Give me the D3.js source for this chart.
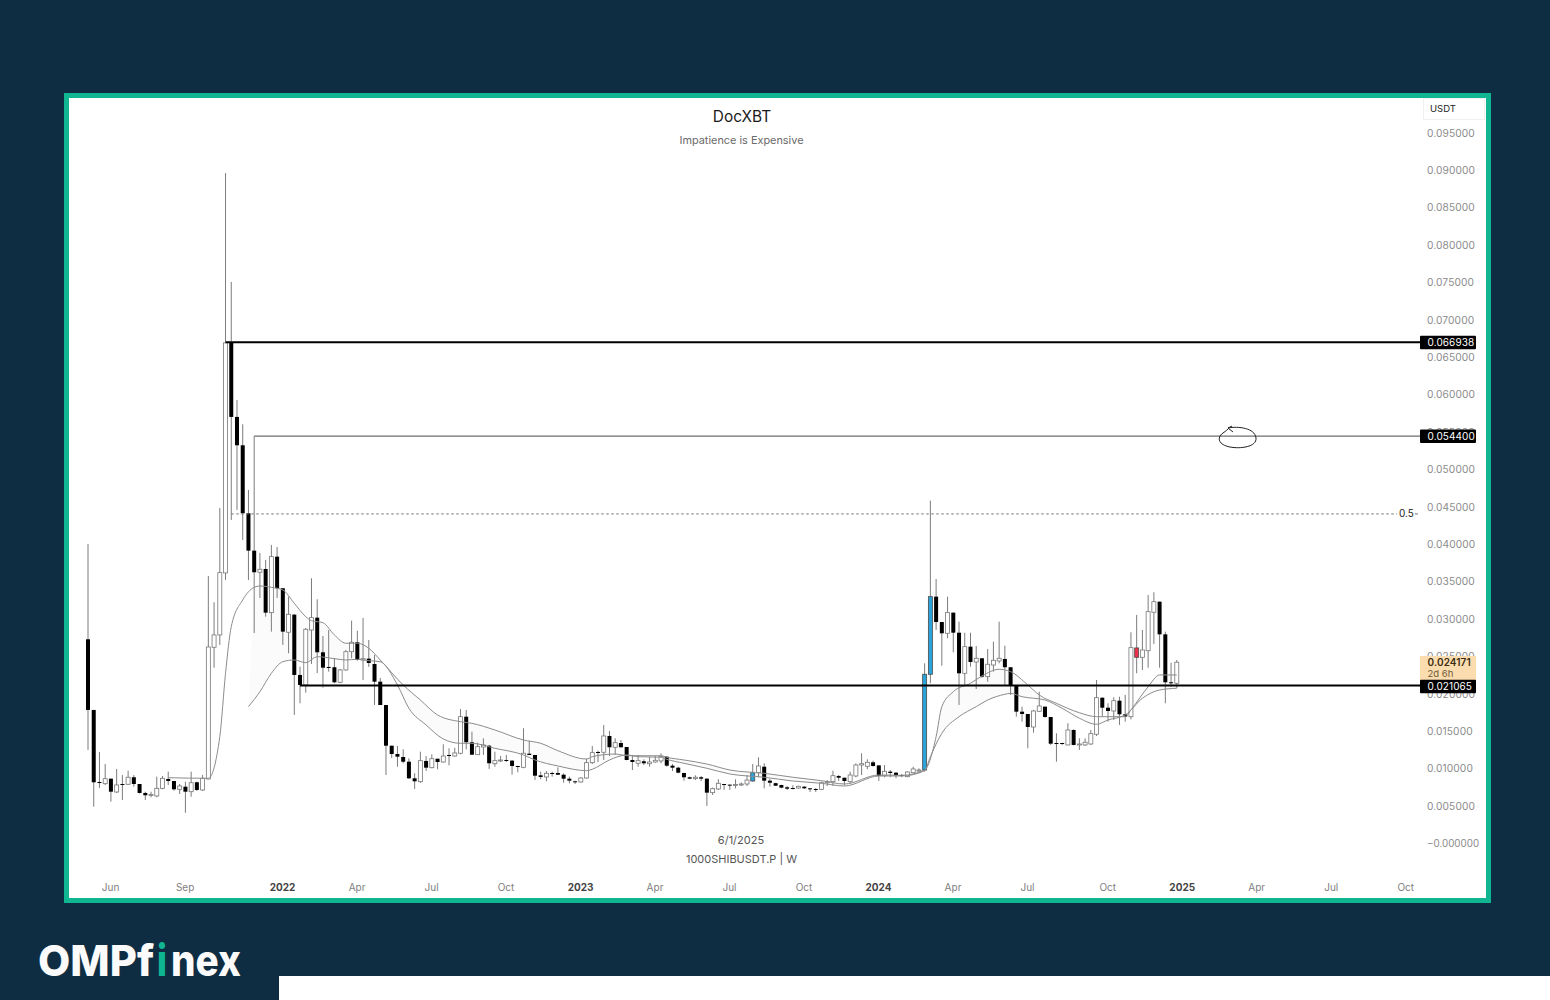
<!DOCTYPE html>
<html>
<head>
<meta charset="utf-8">
<script src="https://cdn.jsdelivr.net/npm/d3@7"></script>
<style>
  html, body { margin: 0; background: #0e2d42; }
  svg { display: block; }
  text { font-family: Inter, "Noto Sans", sans-serif; }
</style>
</head>
<body>
<div id="chart"></div>
<script>
// weekly candles, one entry per week, week 0 is the first candle on the left
const opens = [
  0.02724,0.01779,0.00816,0.00793,0.00860,0.00682,0.00789,0.00785,0.00879,0.00789,
  0.00669,0.00635,0.00629,0.00731,0.00856,0.00829,0.00718,0.00753,0.00686,0.00812,
  0.00709,0.00856,0.02617,0.02782,0.03611,0.06696,0.05697,0.05318,0.04409,0.03909,
  0.03620,0.03664,0.03080,0.03829,0.03406,0.02818,0.03053,0.02247,0.02113,0.02848,
  0.03013,0.02550,0.02354,0.02350,0.02149,0.02314,0.02558,0.02684,0.02447,0.02465,
  0.02394,0.02157,0.01845,0.01301,0.01190,0.01150,0.01087,0.00865,0.00820,0.01097,
  0.01007,0.01127,0.01083,0.01177,0.01163,0.01200,0.01689,0.01347,0.01181,0.01284,
  0.01301,0.01060,0.01101,0.01110,0.01101,0.01030,0.01012,0.01194,0.01177,0.00905,
  0.00883,0.00936,0.00936,0.00913,0.00860,0.00825,0.00816,0.00869,0.01074,0.01217,
  0.01213,0.01431,0.01280,0.01337,0.01284,0.01110,0.01066,0.01093,0.01060,0.01083,
  0.01097,0.01154,0.01034,0.01007,0.00936,0.00879,0.00860,0.00879,0.00860,0.00673,
  0.00722,0.00789,0.00780,0.00776,0.00782,0.00789,0.00829,0.00940,0.01020,0.00833,
  0.00800,0.00775,0.00745,0.00735,0.00735,0.00753,0.00731,0.00722,0.00718,0.00806,
  0.00820,0.00896,0.00873,0.00820,0.00896,0.01043,0.01026,0.01079,0.01038,0.00900,
  0.00954,0.00940,0.00909,0.00887,0.00940,0.00963,0.00976,0.02256,0.03294,0.02955,
  0.02804,0.03080,0.02812,0.02269,0.02625,0.02420,0.02470,0.02224,0.02380,0.02434,
  0.02461,0.02350,0.02109,0.01756,0.01725,0.01551,0.01761,0.01823,0.01685,0.01337,
  0.01337,0.01311,0.01511,0.01317,0.01311,0.01324,0.01454,0.01943,0.01809,0.01765,
  0.01903,0.01721,0.01689,0.02483,0.02483,0.02571,0.03085,0.03227,0.02790,0.02149,0.02136
];
const highs = [
  0.03998,0.01779,0.01217,0.01056,0.00860,0.00990,0.00909,0.00967,0.00909,0.00789,
  0.00686,0.00686,0.00887,0.00896,0.00954,0.00829,0.00789,0.00820,0.00954,0.00820,
  0.00909,0.03571,0.03219,0.04480,0.08956,0.07502,0.05924,0.05599,0.04721,0.05440,
  0.03878,0.03785,0.03985,0.03958,0.03410,0.03294,0.03062,0.02358,0.02875,0.03540,
  0.03259,0.02768,0.02848,0.02470,0.02327,0.02581,0.02973,0.02839,0.03009,0.02715,
  0.02514,0.02207,0.01845,0.01301,0.01297,0.01253,0.01133,0.00932,0.01221,0.01163,
  0.01186,0.01127,0.01320,0.01266,0.01274,0.01792,0.01779,0.01488,0.01341,0.01400,
  0.01311,0.01221,0.01163,0.01177,0.01110,0.01030,0.01534,0.01368,0.01177,0.00954,
  0.00963,0.00954,0.01012,0.00932,0.00887,0.00833,0.00879,0.01127,0.01297,0.01234,
  0.01578,0.01498,0.01400,0.01377,0.01284,0.01177,0.01177,0.01119,0.01154,0.01163,
  0.01200,0.01163,0.01056,0.01020,0.00940,0.00887,0.00905,0.00896,0.00865,0.00740,
  0.00852,0.00789,0.00780,0.00852,0.00809,0.00909,0.01056,0.01146,0.01066,0.00856,
  0.00806,0.00780,0.00762,0.00771,0.00766,0.00762,0.00735,0.00735,0.00820,0.00842,
  0.00967,0.00909,0.00873,0.00954,0.01066,0.01200,0.01119,0.01101,0.01038,0.01043,
  0.00976,0.00949,0.00923,0.00959,0.01020,0.00999,0.02403,0.04578,0.03530,0.02955,
  0.03294,0.03080,0.02959,0.02812,0.02812,0.02634,0.02470,0.02594,0.02692,0.02959,
  0.02639,0.02354,0.02109,0.01823,0.01725,0.01779,0.02023,0.01823,0.01685,0.01467,
  0.01341,0.01601,0.01520,0.01400,0.01400,0.01511,0.02180,0.01943,0.01868,0.01948,
  0.01956,0.01979,0.02818,0.03049,0.02848,0.03316,0.03352,0.03227,0.02826,0.02411,0.02447
];
const lows = [
  0.01244,0.00485,0.00736,0.00776,0.00552,0.00669,0.00575,0.00776,0.00753,0.00662,
  0.00575,0.00611,0.00611,0.00718,0.00776,0.00699,0.00655,0.00405,0.00619,0.00695,
  0.00695,0.00852,0.02344,0.02648,0.03517,0.04319,0.04453,0.04052,0.03517,0.02808,
  0.03276,0.03026,0.02826,0.03276,0.02648,0.02537,0.01712,0.01868,0.02010,0.02394,
  0.02273,0.02077,0.02291,0.02136,0.02136,0.02304,0.02470,0.02438,0.02180,0.02354,
  0.01845,0.01845,0.00909,0.01137,0.01020,0.01066,0.00856,0.00722,0.00802,0.00963,
  0.00999,0.00986,0.01074,0.01039,0.01154,0.01186,0.01253,0.01177,0.01177,0.01177,
  0.00990,0.01020,0.01083,0.01083,0.00913,0.00945,0.00999,0.01177,0.00842,0.00852,
  0.00825,0.00887,0.00909,0.00806,0.00798,0.00789,0.00806,0.00860,0.01056,0.01083,
  0.01110,0.01163,0.01177,0.01277,0.01106,0.00976,0.01020,0.01043,0.01020,0.01074,
  0.01066,0.01020,0.00963,0.00932,0.00833,0.00852,0.00842,0.00829,0.00495,0.00642,
  0.00709,0.00709,0.00709,0.00731,0.00762,0.00762,0.00820,0.00879,0.00731,0.00753,
  0.00762,0.00731,0.00709,0.00718,0.00726,0.00726,0.00682,0.00682,0.00709,0.00762,
  0.00762,0.00829,0.00772,0.00796,0.00879,0.00909,0.00986,0.01020,0.00829,0.00879,
  0.00879,0.00865,0.00879,0.00879,0.00932,0.00940,0.00954,0.02136,0.02848,0.02371,
  0.02737,0.02550,0.01845,0.02113,0.02358,0.02059,0.02207,0.02157,0.02291,0.02403,
  0.02113,0.01979,0.01689,0.01622,0.01266,0.01475,0.01756,0.01676,0.01311,0.01087,
  0.01311,0.01306,0.01306,0.01244,0.01297,0.01311,0.01431,0.01689,0.01622,0.01645,
  0.01578,0.01622,0.01654,0.02269,0.02313,0.02344,0.02661,0.02344,0.01868,0.02090,0.02073
];
const closes = [
  0.01779,0.00812,0.00802,0.00860,0.00686,0.00776,0.00776,0.00879,0.00789,0.00669,
  0.00638,0.00649,0.00731,0.00865,0.00829,0.00718,0.00762,0.00686,0.00806,0.00709,
  0.00865,0.02621,0.02782,0.03615,0.06687,0.05697,0.05318,0.04409,0.03909,0.03620,
  0.03660,0.03080,0.03829,0.03406,0.02826,0.03058,0.02247,0.02113,0.02858,0.03013,
  0.02550,0.02344,0.02340,0.02149,0.02314,0.02558,0.02684,0.02447,0.02465,0.02407,
  0.02157,0.01845,0.01301,0.01190,0.01154,0.01087,0.00865,0.00825,0.01101,0.01007,
  0.01127,0.01083,0.01163,0.01163,0.01204,0.01689,0.01347,0.01181,0.01288,0.01311,
  0.01066,0.01101,0.01110,0.01101,0.01030,0.01016,0.01200,0.01177,0.00900,0.00883,
  0.00932,0.00927,0.00913,0.00860,0.00833,0.00816,0.00869,0.01074,0.01208,0.01208,
  0.01431,0.01280,0.01341,0.01280,0.01110,0.01083,0.01101,0.01066,0.01083,0.01106,
  0.01159,0.01034,0.01007,0.00940,0.00879,0.00860,0.00879,0.00860,0.00673,0.00726,
  0.00798,0.00776,0.00772,0.00782,0.00789,0.00842,0.00940,0.01030,0.00833,0.00806,
  0.00766,0.00740,0.00726,0.00729,0.00758,0.00731,0.00718,0.00715,0.00806,0.00820,
  0.00900,0.00873,0.00829,0.00909,0.01043,0.01060,0.01079,0.01030,0.00896,0.00959,
  0.00936,0.00905,0.00896,0.00949,0.00990,0.00976,0.02256,0.03294,0.02955,0.02804,
  0.03080,0.02812,0.02269,0.02625,0.02420,0.02470,0.02224,0.02390,0.02443,0.02470,
  0.02350,0.02109,0.01756,0.01725,0.01551,0.01765,0.01832,0.01685,0.01328,0.01324,
  0.01324,0.01511,0.01311,0.01324,0.01347,0.01462,0.01943,0.01809,0.01765,0.01903,
  0.01721,0.01689,0.02612,0.02608,0.02581,0.03093,0.03227,0.02790,0.02149,0.02136,0.02417
];
const blueWeeks = [116, 146, 147];
const redWeeks = [183];

// the two moving averages, read at the weeks where the curve bends
const fastWeeks = [14,21,23,24,25,27,29,30,32,34,36,38,39,41,43,45,47,49,51,55,58,61,65,67,71,76,79,82,87,88,92,94,100,
  101,104,108,112,118,123,128,132,138,142,146,148,149,151,154,156,159,161,164,166,169,173,176,178,181,182,185,187,190];
const fastValues = [0.00873,0.00865,0.01422,0.02269,0.02893,0.03250,0.03419,0.03437,0.03419,0.03383,0.03205,0.03026,0.02973,0.02946,0.02782,0.02671,0.02671,0.02604,
  0.02447,0.02113,0.01912,0.01712,0.01622,0.01600,0.01511,0.01377,0.01333,0.01234,0.01123,0.01154,0.01190,0.01167,0.01167,
  0.01146,0.01110,0.01056,0.00976,0.00932,0.00879,0.00833,0.00789,0.00909,0.00905,0.00976,0.01422,0.01823,0.02023,0.02136,0.02233,0.02323,0.02291,0.02113,0.01979,0.01868,0.01742,0.01689,0.01689,0.01689,0.01779,0.02090,0.02247,0.02247];
const slowWeeks = [28,30,32,34,36,38,40,43,45,47,49,51,54,56,59,62,65,67,71,76,78,82,87,88,91,94,96,100,
  101,104,108,112,118,123,128,132,138,142,146,147,149,152,155,157,160,161,163,167,170,173,176,178,181,184,187,190];
const slowValues = [0.01823,0.02023,0.02269,0.02424,0.02447,0.02411,0.02491,0.02465,0.02447,0.02456,0.02438,0.02424,0.02113,0.01801,0.01578,0.01391,0.01333,0.01333,0.01266,0.01177,0.01110,0.01030,0.00967,0.00986,0.01110,0.01177,0.01154,0.01146,
  0.01119,0.01066,0.00999,0.00923,0.00879,0.00829,0.00798,0.00762,0.00896,0.00896,0.00967,0.01154,0.01467,0.01689,0.01823,0.01912,0.01988,0.02001,0.01956,0.01912,0.01801,0.01668,0.01587,0.01645,0.01712,0.01935,0.02046,0.02069];

const priceTicks = [0.095,0.09,0.085,0.08,0.075,0.07,0.065,0.06,0.055,0.05,0.045,0.04,0.035,0.03,0.025,0.02,0.015,0.01,0.005,0];
const timeTickWeeks = [4,17,34,47,60,73,86,99,112,125,138,151,164,178,191,204,217,230];
const timeTickLabels = ["Jun","Sep","2022","Apr","Jul","Oct","2023","Apr","Jul","Oct","2024","Apr","Jul","Oct","2025","Apr","Jul","Oct"];

const levelStrong = 0.066938;
const levelThin = 0.0544;
const levelSupport = 0.021065;
const levelHalf = 0.044;
const lastPrice = 0.024171;

const width = 1550, height = 1000;
const svg = d3.select("#chart").append("svg")
  .attr("width", width)
  .attr("height", height)
  .attr("viewBox", [0, 0, width, height]);

const x = d3.scaleLinear().domain([0, 230]).range([88, 1406]);
const y = d3.scaleLinear().domain([0, 0.095]).range([843, 132.5]);

// frame
svg.append("rect").attr("x", 66.5).attr("y", 95.5).attr("width", 1422).attr("height", 805)
  .attr("fill", "#fff").attr("stroke", "#10b592").attr("stroke-width", 5);
svg.append("rect").attr("x", 279).attr("y", 976).attr("width", 1271).attr("height", 24).attr("fill", "#fff");

// titles
const centerText = (px, py, size, fill, txt) => svg.append("text")
  .attr("x", px).attr("y", py).attr("text-anchor", "middle")
  .attr("font-size", size).attr("fill", fill).text(txt);
centerText(742, 122, 15.4, "#1a1a1a", "DocXBT");
centerText(741.5, 144, 10.9, "#6a6a6a", "Impatience is Expensive");
centerText(741, 844, 11, "#555", "6/1/2025");
centerText(741.5, 863, 11, "#555", "1000SHIBUSDT.P | W");

// axes
const yAxis = d3.axisRight(y).tickValues(priceTicks).tickSize(0).tickPadding(0)
  .tickFormat(d => d === 0 ? "\u22120.000000" : d.toFixed(6));
svg.append("g").attr("transform", "translate(1427,0.4)").call(yAxis)
  .call(g => g.select(".domain").remove())
  .call(g => g.selectAll("text").attr("fill", "#8b8b8b").attr("font-size", d => d === 0 ? 9.8 : 10.2)
    .attr("font-family", "Inter, sans-serif").attr("letter-spacing", d => d === 0 ? 0 : 0.1));

const xAxis = d3.axisBottom(x).tickValues(timeTickWeeks).tickSize(0).tickPadding(0)
  .tickFormat((d, i) => timeTickLabels[i]);
svg.append("g").attr("transform", "translate(-0.8,883)").call(xAxis)
  .call(g => g.select(".domain").remove())
  .call(g => g.selectAll("text")
    .attr("font-family", "Inter, sans-serif").attr("font-size", 10).attr("dy", 8)
    .attr("fill", (d, i) => /^20/.test(timeTickLabels[i]) ? "#444" : "#808080")
    .attr("font-weight", (d, i) => /^20/.test(timeTickLabels[i]) ? 700 : 400));

// moving averages and the faint band between them
const fastPts = fastWeeks.map((w, i) => [w, fastValues[i]]);
const slowPts = slowWeeks.map((w, i) => [w, slowValues[i]]);
const maLine = d3.line().x(d => x(d[0])).y(d => y(d[1])).curve(d3.curveMonotoneX);
const bandFast = fastPts.filter(d => d[0] >= 28);
const bandPath = maLine(bandFast) + "L" + maLine(slowPts.slice().reverse()).slice(1) + "Z";
svg.append("path").attr("d", bandPath).attr("fill", "#fbfbfb");

// candles
const candles = d3.range(opens.length).map(i => ({
  week: i, open: opens[i], high: highs[i], low: lows[i], close: closes[i]
}));
const bodyFill = d => blueWeeks.includes(d.week) ? "#2ba4dc"
  : redWeeks.includes(d.week) ? "#ee2f48"
  : d.close >= d.open ? "#fff" : "#000";
const bodyStroke = d => {
  const fill = bodyFill(d);
  if (fill === "#000") return "none";
  return fill === "#fff" ? "#777" : "#4a4a4a";
};

const candleG = svg.append("g");
candleG.selectAll("line").data(candles).join("line")
  .attr("x1", d => x(d.week)).attr("x2", d => x(d.week))
  .attr("y1", d => y(d.high)).attr("y2", d => y(d.low))
  .attr("stroke", "#7c7c7c").attr("stroke-width", 1);
candleG.selectAll("rect").data(candles).join("rect")
  .attr("x", d => x(d.week) - 2)
  .attr("width", 4)
  .attr("y", d => y(Math.max(d.open, d.close)))
  .attr("height", d => Math.max(1, Math.abs(y(d.open) - y(d.close))))
  .attr("fill", bodyFill)
  .attr("stroke", bodyStroke)
  .attr("stroke-width", 0.8);

svg.append("path").attr("d", maLine(fastPts)).attr("fill", "none").attr("stroke", "#8c8c8c").attr("stroke-width", 1);
svg.append("path").attr("d", maLine(slowPts)).attr("fill", "none").attr("stroke", "#8c8c8c").attr("stroke-width", 1);

// horizontal levels
const levelLine = (startWeek, value, stroke, w, dash) => svg.append("line")
  .attr("x1", x(startWeek)).attr("x2", 1420)
  .attr("y1", y(value)).attr("y2", y(value))
  .attr("stroke", stroke).attr("stroke-width", w)
  .attr("stroke-dasharray", dash);
levelLine(24, levelStrong, "#000", 2, null);
levelLine(29, levelThin, "#6e6e6e", 1.2, null);
levelLine(37, levelSupport, "#000", 2, null);
svg.append("line").attr("x1", x(25)).attr("x2", 1397).attr("y1", y(levelHalf)).attr("y2", y(levelHalf))
  .attr("stroke", "#777").attr("stroke-width", 1).attr("stroke-dasharray", "2.5 2.5");
svg.append("line").attr("x1", 1415).attr("x2", 1418).attr("y1", y(levelHalf)).attr("y2", y(levelHalf))
  .attr("stroke", "#777").attr("stroke-width", 1);
svg.append("text").attr("x", 1399).attr("y", y(levelHalf) + 3.5).attr("font-size", 10).attr("fill", "#222").text("0.5");

// hand drawn circle with arrow head on the 0.0544 level
svg.append("path")
  .attr("d", "M1228,428 C1238,426 1255,428 1256,438 C1257,447 1240,449 1230,447 C1219,445 1216,438 1223,433 C1226,431 1228,429 1229,428 M1228,428 L1232,426 M1228,428 L1233,432")
  .attr("fill", "none").attr("stroke", "#222").attr("stroke-width", 1);

// usdt box
svg.append("rect").attr("x", 1423.5).attr("y", 98.5).attr("width", 61).attr("height", 21)
  .attr("fill", "#fff").attr("stroke", "#f0f0f0");
svg.append("text").attr("x", 1430).attr("y", 112).attr("font-size", 9.5).attr("fill", "#222").text("USDT");

// price badges
const blackBadge = (value, label, shift = 0) => {
  const c = y(value) + shift;
  svg.append("rect").attr("x", 1420).attr("y", c - 6.7).attr("width", 56).attr("height", 13.5).attr("rx", 1).attr("fill", "#000");
  svg.append("text").attr("x", 1427.5).attr("y", c + 3.7).attr("font-size", 10).attr("letter-spacing", 0.1).attr("fill", "#fff").text(label);
};
blackBadge(levelStrong, levelStrong.toFixed(6));
blackBadge(levelThin, levelThin.toFixed(6));
svg.append("rect").attr("x", 1420).attr("y", 656).attr("width", 56).attr("height", 25).attr("fill", "#fbdcae");
svg.append("text").attr("x", 1427.5).attr("y", 666).attr("font-size", 10).attr("font-weight", 600)
  .attr("letter-spacing", 0.1).attr("fill", "#3a2c14").text(lastPrice.toFixed(6));
svg.append("text").attr("x", 1427.5).attr("y", 677).attr("font-size", 9.5).attr("fill", "#6b5a3a").text("2d 6h");
blackBadge(levelSupport, levelSupport.toFixed(6), 1);

// logo
const logoPart = (txt, px, len, fill) => svg.append("text")
  .attr("x", px).attr("y", 976).attr("font-size", 43).attr("font-weight", 800).attr("fill", fill)
  .attr("textLength", len).attr("lengthAdjust", "spacingAndGlyphs").text(txt);
logoPart("OMPf", 38, 116, "#fafafa");
logoPart("i", 157, 10, "#10b592");
logoPart("nex", 171, 70, "#fafafa");
</script>
</body>
</html>
